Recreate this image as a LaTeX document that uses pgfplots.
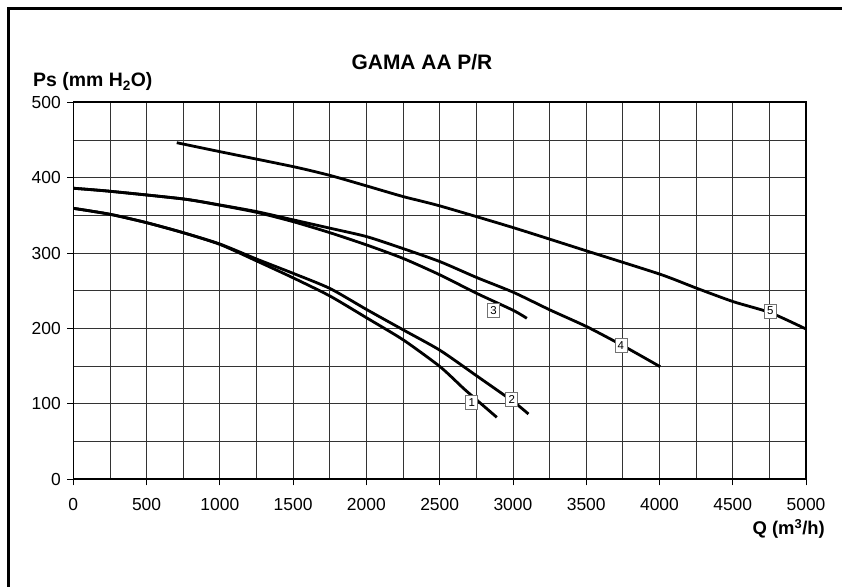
\documentclass[border=0pt]{standalone}
\usepackage{fontspec}
\setmainfont{Liberation Sans}
\usepackage{pgfplots}
\pgfplotsset{compat=1.18}

% curve data (Q in m3/h, Ps in mm H2O)
\pgfplotsset{
  curve/.style={black, line width=2.8bp, smooth, tension=0.4},
}
\tikzset{
  tag/.style={draw=black!55, fill=white, line width=0.8bp, inner sep=1.2bp,
    minimum width=12bp, minimum height=14bp, font=\fontsize{11.5}{11.5}\selectfont},
}

\begin{document}
\begin{tikzpicture}[x=1bp,y=1bp]
\useasboundingbox (0,0) rectangle (842,587);
\draw[line width=2.7bp] (8.7,-20) -- (8.7,578.5) -- (870,578.5);

\node[anchor=base, font=\bfseries\fontsize{21}{21}\selectfont] at (422,517) {GAMA AA P/R};
\node[anchor=base west, font=\bfseries\fontsize{19.5}{19.5}\selectfont, inner sep=0pt] at (33,500) {Ps (mm H\textsubscript{2}O)};
\node[anchor=base east, font=\bfseries\fontsize{18.5}{18.5}\selectfont, inner sep=0pt] at (825,52) {Q (m\textsuperscript{3}/h)};

\begin{axis}[
  at={(73.3bp,107.7bp)}, anchor=south west,
  scale only axis, width=732.7bp, height=377bp,
  xmin=0, xmax=5000, ymin=0, ymax=500,
  xtick={0,500,...,5000}, ytick={0,100,...,500},
  minor x tick num=1, minor y tick num=1,
  grid=both,
  major grid style={black!80, line width=0.8bp},
  minor grid style={black!80, line width=0.8bp},
  tick align=outside, tick pos=left,
  major tick length=6bp, minor tick length=0pt,
  tick style={black, line width=0.8bp},
  axis line style={line width=1.6bp},
  ticklabel style={font=\fontsize{17.5}{17.5}\selectfont},
  xticklabel style={yshift=-10bp},
  yticklabel style={xshift=-3bp},
  /pgf/number format/assume math mode=true,
  /pgf/number format/1000 sep={},
  scaled ticks=false,
]
% 5
\addplot[curve] coordinates {(706,446.4) (1001,434.5) (1502,414.6) (1752,403) (2003,389) (2250,375) (2503,362.5) (3003,333.7) (3504,302.8) (4005,271.9) (4255,253.3) (4505,235.5) (4756,221) (5000,199.3)};
% 4
\addplot[curve] coordinates {(0,386) (250,382) (751,371.8) (1001,363.8) (1252,355) (1502,344) (1752,333) (2003,321.8) (2250,306) (2503,288.6) (2754,267.5) (3003,248) (3254,224.5) (3504,202.4) (3754,176.8) (4005,149.3)};
% 3
\addplot[curve] coordinates {(0,386) (250,382) (751,371.8) (1001,363.5) (1252,354) (1502,341.6) (1752,327) (2003,310.7) (2250,293) (2503,271) (2754,246.5) (3003,224) (3095,213.5)};
% 2
\addplot[curve] coordinates {(0,359.4) (250,351.5) (501,340.3) (751,327) (1001,312) (1252,292) (1502,273) (1752,253) (2003,225) (2253,198) (2503,171) (2754,137) (3003,103) (3106,86.6)};
% 1
\addplot[curve] coordinates {(0,359.4) (250,351.5) (501,340.3) (751,327) (1001,311.5) (1252,289.5) (1502,267) (1752,243) (2003,214) (2253,184.7) (2503,149.3) (2662,120.7) (2754,105) (2890,82.2)};

\node[tag] at (axis cs:2719,101.6) {1};
\node[tag] at (axis cs:2992,106) {2};
\node[tag] at (axis cs:2867,223.6) {3};
\node[tag] at (axis cs:3737,178) {4};
\node[tag] at (axis cs:4756,223.2) {5};
\end{axis}
\end{tikzpicture}
\end{document}
